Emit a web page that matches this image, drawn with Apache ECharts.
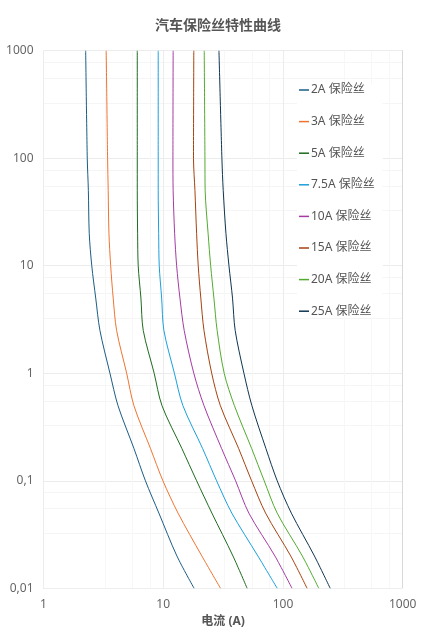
<!DOCTYPE html>
<html>
<head>
<meta charset="utf-8">
<script src="https://cdn.jsdelivr.net/npm/echarts@6/dist/echarts.min.js"></script>
<style>
  html, body { margin: 0; padding: 0; background: #fff; }
  #main { width: 436px; height: 635px; }
</style>
</head>
<body>
<div id="main"></div>
<script>
// time points (s), shared by every fuse curve
var times = [1000, 100, 50, 20, 10, 5, 2.5, 1, 0.5, 0.2, 0.1, 0.05, 0.02, 0.01];

var fuseNames = ['2A 保险丝', '3A 保险丝', '5A 保险丝', '7.5A 保险丝', '10A 保险丝', '15A 保险丝', '20A 保险丝', '25A 保险丝'];

// current (A) at each time point
var amps2 = [2.25, 2.32, 2.37, 2.41, 2.53, 2.73, 2.96, 3.59, 4.19, 5.69, 7.10, 9.20, 13.0, 18.1];
var amps3 = [3.34, 3.43, 3.47, 3.52, 3.64, 3.82, 4.08, 4.95, 5.69, 7.82, 9.94, 13.3, 21.0, 30.1];
var amps5 = [6.07, 6.07, 6.07, 6.11, 6.18, 6.51, 6.81, 8.4, 9.76, 14.3, 19.0, 25.5, 38.2, 50.2];
var amps7_5 = [9.08, 9.08, 9.08, 9.16, 9.26, 9.70, 10.13, 12.4, 14.6, 21.3, 27.9, 37.4, 61.7, 89.5];
var amps10 = [12.1, 12.05, 12.1, 12.45, 12.94, 13.79, 14.97, 18.0, 21.9, 30.7, 40.2, 51.9, 85.6, 119];
var amps15 = [18.0, 17.9, 18.4, 19.0, 19.6, 20.6, 21.9, 25.4, 30.0, 42.6, 54.7, 71.6, 116, 159];
var amps20 = [22.0, 22.3, 22.4, 23.7, 24.9, 26.5, 28.2, 32.3, 39.3, 54.7, 69.7, 89.5, 145, 199];
var amps25 = [29.2, 30.9, 31.7, 33.4, 35.4, 37.9, 39.9, 47.2, 55.0, 72.0, 89.5, 117.5, 183, 248];

var allAmps = [amps2, amps3, amps5, amps7_5, amps10, amps15, amps20, amps25];
var colors = ['#1b5c85', '#ee7430', '#1d6b1f', '#1a9fdc', '#a53aa3', '#a5420f', '#52aa2e', '#0f3550'];

var series = [];
for (var i = 0; i < fuseNames.length; i++) {
    var pts = [];
    for (var j = 0; j < times.length; j++) {
        pts.push([allAmps[i][j], times[j]]);
    }
    series.push({
        name: fuseNames[i],
        type: 'line',
        data: pts,
        smooth: 0.3,
        symbol: 'none',
        lineStyle: { width: 1, color: colors[i] },
        itemStyle: { color: colors[i] }
    });
}

var labelFont = 'Noto Sans, Noto Sans CJK SC, sans-serif';

var myChart = echarts.init(document.getElementById('main'));
myChart.setOption({
    animation: false,
    color: colors,
    title: {
        text: '汽车保险丝特性曲线',
        left: 'center',
        top: 14,
        textStyle: { color: '#555', fontSize: 14, fontWeight: 'bold', fontFamily: labelFont }
    },
    legend: {
        orient: 'vertical',
        left: 297,
        top: 84,
        icon: 'rect',
        itemWidth: 10,
        itemHeight: 1.5,
        itemGap: 19.6,
        padding: [0, 8, 0, 2],
        backgroundColor: '#fff',
        textStyle: { color: '#555', fontSize: 12, fontFamily: labelFont, padding: [0, 0, 0, -3] },
        data: fuseNames
    },
    grid: { left: 43.5, right: 33.3, top: 50.7, bottom: 46.7, containLabel: false, outerBoundsMode: 'none' },
    xAxis: {
        type: 'log',
        logBase: 10,
        min: 1,
        max: 1000,
        name: '电流 (A)',
        nameLocation: 'middle',
        nameGap: 21,
        nameTextStyle: { color: '#555', fontSize: 12, fontWeight: 'bold', fontFamily: labelFont },
        axisLine: { show: true, lineStyle: { color: '#eee' } },
        axisTick: { show: false },
        axisLabel: {
            color: '#666', fontSize: 12, margin: 10, fontFamily: labelFont,
            formatter: function (v) { return String(v); }
        },
        splitLine: { show: true, lineStyle: { color: '#ececec' } },
        minorTick: { show: false, splitNumber: 4 },
        minorSplitLine: { show: true, lineStyle: { color: '#f7f7f7' } }
    },
    yAxis: [{
        type: 'log',
        logBase: 10,
        min: 0.01,
        max: 1000,
        name: '时间 (s)',
        nameLocation: 'middle',
        nameGap: 27,
        nameTextStyle: { color: '#555', fontSize: 12, fontWeight: 'bold', fontFamily: labelFont },
        axisLine: { show: false },
        axisTick: { show: false },
        axisLabel: {
            color: '#666', fontSize: 12, margin: 10, fontFamily: labelFont,
            formatter: function (v) { return String(v).replace('.', ','); }
        },
        splitLine: { show: true, lineStyle: { color: '#ececec' } },
        minorTick: { show: false, splitNumber: 4 },
        minorSplitLine: { show: true, lineStyle: { color: '#f5f5f5' } }
    }, {
        type: 'log',
        logBase: 10,
        min: 0.01,
        max: 1000,
        position: 'right',
        axisLine: { show: true, lineStyle: { color: '#d8d8d8' } },
        axisTick: { show: false },
        axisLabel: { show: false },
        splitLine: { show: false }
    }],
    tooltip: { show: false },
    series: series
});
</script>
</body>
</html>
